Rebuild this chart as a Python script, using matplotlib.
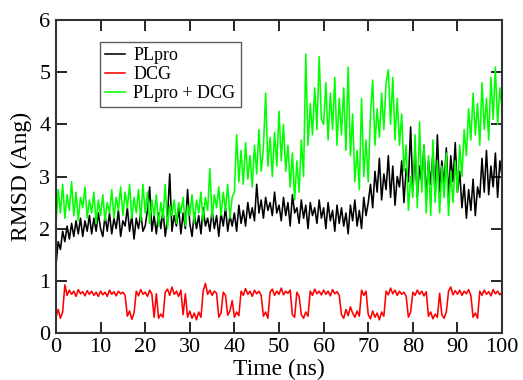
import numpy as np
import matplotlib
matplotlib.use('Agg')
import matplotlib.pyplot as plt

# time axis, one reading every 0.5 ns
time_ns = np.arange(0, 100.5, 0.5)

# RMSD values (Ang)
plpro = [
    1.30, 1.75, 1.60, 1.95, 1.75, 2.05, 1.80, 2.10, 1.85, 2.15, 1.90, 2.20, 1.85, 2.15, 1.95, 2.25, 1.90, 2.20, 1.95, 2.30,
    2.00, 1.85, 2.25, 1.95, 2.30, 1.90, 2.20, 2.00, 2.35, 1.85, 2.15, 2.05, 2.40, 1.95, 2.25, 1.80, 2.20, 2.00, 2.30, 1.95,
    2.05, 2.35, 2.80, 1.95, 2.25, 1.90, 2.30, 2.00, 2.35, 1.85, 2.20, 3.05, 1.95, 2.25, 2.05, 2.40, 1.90, 2.30, 2.00, 2.75,
    2.10, 1.85, 2.30, 2.00, 2.25, 1.90, 2.40, 2.05, 2.20, 1.95, 2.35, 2.00, 2.25, 1.85, 2.30, 2.05, 2.40, 1.95, 2.25, 2.05,
    2.30, 1.95, 2.45, 2.10, 2.35, 2.05, 2.50, 2.20, 2.40, 2.15, 2.85, 2.30, 2.55, 2.20, 2.60, 2.35, 2.50, 2.25, 2.70, 2.30,
    2.45, 2.15, 2.60, 2.25, 2.50, 2.05, 2.65, 2.30, 2.40, 2.10, 2.55, 2.20, 2.45, 2.00, 2.50, 2.25, 2.40, 2.10, 2.55, 2.20,
    2.40, 2.00, 2.50, 2.15, 2.35, 1.95, 2.45, 2.10, 2.40, 2.05, 2.30, 1.90, 2.45, 2.15, 2.55, 2.05, 2.35, 2.00, 2.60, 2.25,
    2.50, 2.85, 2.40, 3.10, 2.70, 3.35, 2.55, 3.05, 2.75, 3.40, 2.60, 3.20, 2.45, 3.00, 2.80, 3.30, 2.50, 3.15, 2.90, 3.95,
    2.70, 3.50, 2.60, 3.20, 2.90, 3.60, 2.55, 3.30, 2.85, 3.45, 2.65, 3.80, 2.70, 3.30, 2.80, 3.55, 2.60, 3.40, 2.90, 3.65,
    2.70, 3.10, 2.40, 2.85, 2.20, 2.75, 2.35, 2.95, 2.25, 2.80, 2.60, 3.35, 2.70, 3.50, 2.65, 3.20, 2.80, 3.45, 2.60, 3.30,
    3.00,
]

dcg = [
    0.30, 0.45, 0.28, 0.40, 0.92, 0.72, 0.82, 0.74, 0.80, 0.70, 0.83, 0.75, 0.79, 0.71, 0.81, 0.74, 0.80, 0.72, 0.78, 0.70,
    0.80, 0.73, 0.78, 0.70, 0.82, 0.74, 0.79, 0.71, 0.80, 0.75, 0.78, 0.72, 0.32, 0.42, 0.26, 0.38, 0.80, 0.71, 0.83, 0.74,
    0.78, 0.70, 0.82, 0.74, 0.30, 0.75, 0.28, 0.36, 0.30, 0.78, 0.84, 0.72, 0.88, 0.74, 0.80, 0.70, 0.82, 0.35, 0.75, 0.30,
    0.42, 0.28, 0.38, 0.25, 0.40, 0.30, 0.80, 0.95, 0.74, 0.82, 0.72, 0.80, 0.76, 0.30, 0.38, 0.78, 0.72, 0.34, 0.42, 0.62,
    0.30, 0.40, 0.33, 0.80, 0.72, 0.85, 0.74, 0.80, 0.70, 0.82, 0.75, 0.80, 0.72, 0.32, 0.40, 0.28, 0.78, 0.84, 0.72, 0.80,
    0.74, 0.86, 0.73, 0.80, 0.76, 0.82, 0.35, 0.30, 0.78, 0.70, 0.35, 0.28, 0.40, 0.32, 0.80, 0.72, 0.84, 0.75, 0.80, 0.73,
    0.82, 0.74, 0.80, 0.71, 0.83, 0.75, 0.79, 0.72, 0.35, 0.28, 0.45, 0.33, 0.50, 0.38, 0.30, 0.42, 0.32, 0.82, 0.72, 0.80,
    0.35, 0.27, 0.42, 0.30, 0.38, 0.25, 0.40, 0.32, 0.80, 0.73, 0.86, 0.75, 0.82, 0.72, 0.80, 0.74, 0.78, 0.70, 0.30, 0.40,
    0.78, 0.72, 0.82, 0.74, 0.80, 0.71, 0.79, 0.32, 0.40, 0.27, 0.36, 0.30, 0.76, 0.35, 0.28, 0.40, 0.80, 0.88, 0.73, 0.81,
    0.74, 0.82, 0.72, 0.80, 0.75, 0.83, 0.72, 0.30, 0.38, 0.28, 0.80, 0.72, 0.82, 0.74, 0.79, 0.71, 0.83, 0.75, 0.80, 0.73,
    0.78,
]

plpro_dcg = [
    2.10, 2.75, 2.30, 2.85, 2.20, 2.65, 2.35, 2.90, 2.25, 2.70, 2.15, 2.60, 2.40, 2.80, 2.20, 2.55, 2.30, 2.70, 2.10, 2.55,
    2.25, 2.65, 2.15, 2.50, 2.30, 2.75, 2.20, 2.60, 2.35, 2.80, 2.25, 2.70, 2.40, 2.85, 2.20, 2.60, 2.30, 2.75, 2.15, 2.85,
    2.30, 2.70, 2.10, 2.55, 2.25, 2.65, 2.05, 2.50, 2.20, 2.85, 2.00, 2.45, 2.25, 2.55, 2.10, 2.50, 2.30, 2.60, 2.05, 2.45,
    2.25, 2.65, 2.10, 2.55, 2.30, 2.70, 2.15, 2.60, 2.35, 3.15, 2.20, 2.65, 2.40, 2.80, 2.25, 2.70, 2.35, 2.85, 2.20, 2.60,
    2.70, 3.80, 2.90, 3.50, 2.85, 3.65, 2.95, 3.40, 2.80, 3.60, 3.05, 3.90, 3.10, 3.55, 4.60, 3.20, 3.75, 3.00, 3.85, 3.20,
    4.25, 3.30, 4.00, 3.10, 3.60, 2.80, 3.45, 2.55, 3.30, 2.70, 3.70, 3.00, 5.35, 3.60, 4.40, 3.80, 4.70, 3.90, 5.30, 4.10,
    4.00, 4.80, 3.70, 4.60, 3.90, 4.90, 3.60, 4.50, 3.80, 4.70, 3.50, 5.10, 3.40, 4.20, 2.90, 3.50, 2.75, 4.50, 3.00, 3.70,
    2.90, 4.20, 4.85, 3.60, 4.30, 3.75, 4.60, 3.90, 4.80, 5.05, 4.00, 4.90, 3.70, 4.50, 3.60, 4.20, 3.10, 3.60, 2.35, 3.00,
    2.60, 3.80, 2.40, 4.05, 2.70, 3.60, 2.30, 3.40, 2.25, 3.70, 2.50, 3.30, 2.30, 3.20, 2.60, 3.45, 2.25, 3.10, 2.50, 3.30,
    2.70, 3.60, 3.00, 3.90, 3.40, 4.30, 3.70, 4.60, 3.80, 4.40, 3.60, 4.80, 3.90, 4.50, 3.70, 4.90, 4.10, 5.10, 4.00, 4.70,
    4.30,
]

series_names = ['PLpro', 'DCG', 'PLpro + DCG']
series_colors = ['black', 'red', '#00ff00']

plt.rcParams['font.family'] = ['Liberation Serif', 'DejaVu Serif']

fig = plt.figure(figsize=(5.23, 3.80), dpi=100)
ax = fig.add_axes([0.107, 0.124, 0.853, 0.823])

for vals, name, col in zip([plpro, dcg, plpro_dcg], series_names, series_colors):
    ax.plot(time_ns, vals, color=col, lw=1.15, label=name)

ax.set_xlim(0, 100)
ax.set_ylim(0, 6)
ax.set_xticks(np.arange(0, 101, 10))
ax.set_yticks(np.arange(0, 7, 1))
ax.tick_params(direction='in', length=8, width=1.2, labelsize=16,
               top=True, right=True, pad=4)
for sp in ax.spines.values():
    sp.set_linewidth(1.5)
    sp.set_color('#333333')

ax.set_xlabel('Time (ns)', fontsize=17, labelpad=1)
ax.set_ylabel('RMSD (Ang)', fontsize=17, labelpad=5)

leg = ax.legend(loc='upper left', bbox_to_anchor=(0.0987, 0.93), fontsize=13,
                frameon=True, fancybox=False, edgecolor='#333333',
                handlelength=1.1, handletextpad=0.45, labelspacing=0.1,
                borderpad=0.3, borderaxespad=0)
leg.get_frame().set_linewidth(1.0)

fig.savefig('out.png', dpi=100)
